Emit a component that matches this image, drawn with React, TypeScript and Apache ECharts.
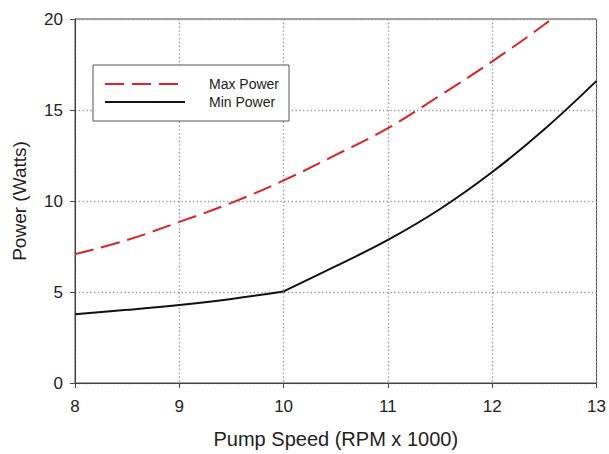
import React, { useEffect, useRef } from "react";
import * as echarts from "echarts";

const speeds = [8, 8.5, 9, 9.5, 10, 10.5, 11, 11.5, 12, 12.5, 13];
const maxPower = [7.08, 7.86, 8.85, 9.9, 11.13, 12.53, 14.0, 15.8, 17.67, 19.7, 21.9];
const minPower = [3.78, 4.02, 4.29, 4.62, 5.03, 6.42, 7.86, 9.56, 11.59, 13.94, 16.6];
const minBreakSpeed = 10;
const xTicks = [8, 9, 10, 11, 12, 13];
const yTicks = [0, 5, 10, 15, 20];

const FONT = '"Liberation Sans", Arial, Helvetica, sans-serif';

export default function App() {
  const ref = useRef<HTMLDivElement>(null);
  useEffect(() => {
    if (!ref.current) return;
    const chart = echarts.init(ref.current, undefined, { renderer: "svg" });
    const minPts = speeds.map((s, i) => [s, minPower[i]]);
    const minLow = minPts.filter((p) => p[0] <= minBreakSpeed);
    const minHigh = minPts.filter((p) => p[0] >= minBreakSpeed);
    const gridLine = { show: true, lineStyle: { type: [1.4, 2.4], color: "#9a9a9a", width: 1.4 } };
    chart.setOption({
      animation: false,
      backgroundColor: "#ffffff",
      textStyle: { fontFamily: FONT },
      grid: {
        left: 75,
        right: 11,
        top: 19,
        bottom: 68,
        show: true,
        borderColor: "#444",
        borderWidth: 1,
        backgroundColor: "transparent",
      },
      legend: {
        orient: "vertical",
        left: 93,
        top: 65,
        backgroundColor: "#ffffff",
        borderColor: "#555",
        borderWidth: 1,
        padding: [12, 10, 12, 11],
        itemWidth: 80,
        itemHeight: 14,
        itemGap: 4,
        itemStyle: { opacity: 0 },
        textStyle: {
          fontFamily: FONT,
          fontSize: 14,
          lineHeight: 14,
          color: "#222",
          padding: [0, 0, 0, 19],
        },
        data: ["Max Power", "Min Power"],
      },
      xAxis: {
        type: "value",
        min: 8,
        max: 13,
        interval: 1,
        name: "Pump Speed (RPM x 1000)",
        nameLocation: "middle",
        nameGap: 46,
        nameTextStyle: { fontFamily: FONT, fontSize: 20, color: "#222" },
        axisLine: { show: true, lineStyle: { color: "#444", width: 1 } },
        axisTick: { show: true, inside: false, length: 5, lineStyle: { color: "#444" } },
        axisLabel: {
          margin: 15,
          fontFamily: FONT,
          fontSize: 17,
          color: "#222",
          formatter: (v: number) => (xTicks.includes(v) ? String(v) : ""),
        },
        splitLine: gridLine,
      },
      yAxis: {
        type: "value",
        min: 0,
        max: 20,
        interval: 5,
        name: "Power (Watts)",
        nameLocation: "middle",
        nameGap: 46,
        nameTextStyle: { fontFamily: FONT, fontSize: 19, color: "#222" },
        axisLine: { show: true, lineStyle: { color: "#444", width: 1 } },
        axisTick: { show: true, inside: false, length: 5, lineStyle: { color: "#444" } },
        axisLabel: {
          margin: 12,
          fontFamily: FONT,
          fontSize: 17,
          color: "#222",
          formatter: (v: number) => (yTicks.includes(v) ? String(v) : ""),
        },
        splitLine: gridLine,
      },
      series: [
        {
          name: "Max Power",
          type: "line",
          data: speeds.map((s, i) => [s, maxPower[i]]),
          smooth: 0.4,
          showSymbol: false,
          symbol: "none",
          clip: true,
          color: "#dd2229",
          lineStyle: { color: "#dd2229", width: 2, type: [19, 8] },
        },
        {
          name: "Min Power",
          type: "line",
          data: minLow,
          smooth: 0.4,
          showSymbol: false,
          symbol: "none",
          clip: true,
          color: "#111111",
          lineStyle: { color: "#111111", width: 2, type: "solid" },
        },
        {
          name: "Min Power",
          type: "line",
          data: minHigh,
          smooth: 0.4,
          showSymbol: false,
          symbol: "none",
          clip: true,
          color: "#111111",
          lineStyle: { color: "#111111", width: 2, type: "solid" },
        },
      ],
    });
    return () => chart.dispose();
  }, []);
  return <div ref={ref} style={{ width: 609, height: 454, position: "absolute", left: 0, top: 0 }} />;
}
